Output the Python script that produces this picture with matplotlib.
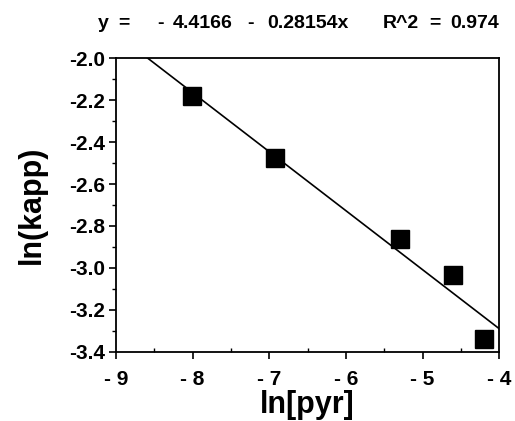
import numpy as np
import matplotlib.pyplot as plt
from matplotlib.ticker import MultipleLocator, FixedLocator, FixedFormatter

# ln[pyr] vs ln(kapp)
ln_pyr = [-8.01, -6.92, -5.30, -4.60, -4.20]
ln_kapp = [-2.18, -2.477, -2.862, -3.034, -3.339]
intercept = -4.4166
slope = -0.28154
xticks = [-9, -8, -7, -6, -5, -4]
xticklabels = ["- 9", "- 8", "- 7", "- 6", "- 5", "- 4"]
yticks = [-3.4, -3.2, -3.0, -2.8, -2.6, -2.4, -2.2, -2.0]

# fit equation, split in pieces with their left edge (px)
eq_parts = ["y", "=", "-", "4.4166", "-", "0.28154x", "R^2", "=", "0.974"]
eq_left = [98, 118, 157, 173, 247, 267, 383, 429, 450]

plt.rcParams['font.family'] = ['Liberation Sans', 'DejaVu Sans']
plt.rcParams['font.weight'] = 'bold'

fig = plt.figure(figsize=(5.15, 4.21), dpi=100)
ax = fig.add_axes([0.2252, 0.1646, 0.7443, 0.6969])

xx = np.array([-9.0, -4.0])
ax.plot(xx, intercept + slope * xx, color='black', lw=1.2)
ax.plot(ln_pyr, ln_kapp, 's', color='black', markersize=13, clip_on=False)

ax.set_xlim(-9, -4)
ax.set_ylim(-3.4, -2.0)

ax.xaxis.set_major_locator(FixedLocator(xticks))
ax.xaxis.set_major_formatter(FixedFormatter(xticklabels))
ax.xaxis.set_minor_locator(MultipleLocator(0.5))
ax.set_yticks(yticks)
ax.set_yticklabels(["%.1f" % v for v in yticks])
ax.yaxis.set_minor_locator(MultipleLocator(0.1))

ax.tick_params(axis='x', which='major', direction='out', length=5, width=1.2,
               labelsize=15, pad=8)
ax.tick_params(axis='x', which='minor', direction='in', length=3, width=1)
ax.tick_params(axis='y', which='major', direction='out', length=5, width=1.2,
               labelsize=15, pad=3)
ax.tick_params(axis='y', which='minor', direction='out', length=3, width=1)

for s in ax.spines.values():
    s.set_linewidth(1.3)

ax.set_xlabel("ln[pyr]", fontsize=22, fontweight='bold', labelpad=1)
ax.set_ylabel("ln(kapp)", fontsize=22, fontweight='bold', labelpad=16)

for txt, xl in zip(eq_parts, eq_left):
    fig.text(xl / 515, 1 - 23 / 421, txt, fontsize=14, fontweight='bold',
             ha='left', va='center')

fig.savefig("out.png", dpi=100)
